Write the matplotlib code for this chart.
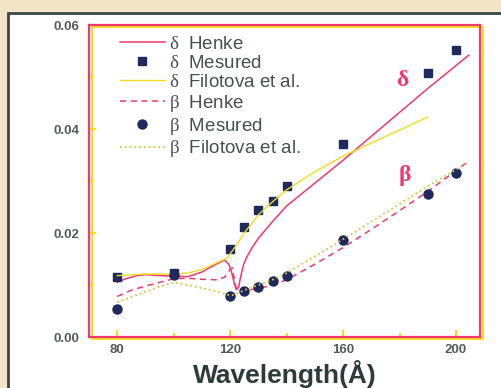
import matplotlib
matplotlib.use('Agg')
import matplotlib.pyplot as plt
from matplotlib.patches import Rectangle
from matplotlib.transforms import ScaledTranslation
from matplotlib.ticker import MultipleLocator

plt.rcParams['font.family'] = ['Liberation Sans', 'DejaVu Sans']
plt.rcParams['mathtext.fontset'] = 'custom'
plt.rcParams['mathtext.rm'] = 'Liberation Serif'
plt.rcParams['mathtext.it'] = 'Liberation Serif'
plt.rcParams['mathtext.bf'] = 'Liberation Serif:bold'

# measured points
x_meas = [80, 100, 120, 125, 130, 135, 140, 160, 190, 200]
delta_meas = [0.0115, 0.0124, 0.0170, 0.0211, 0.0244, 0.0262, 0.0291, 0.0371, 0.0508, 0.0551]
beta_meas = [0.0054, 0.0119, 0.0078, 0.0089, 0.0097, 0.0107, 0.0118, 0.0187, 0.0275, 0.0315]

# Henke delta
x_dh = [80, 83, 87, 90, 95, 100, 105, 110, 115, 118, 119.5, 120.5, 121.5, 122.3, 123, 123.8, 124.8,
        126, 128, 130, 135, 140, 150, 160, 170, 180, 190, 200, 204.5]
y_dh = [0.0105, 0.0112, 0.0118, 0.0120, 0.0118, 0.0117, 0.0116, 0.0125, 0.0140, 0.0148, 0.0140, 0.0125, 0.0102,
        0.0091, 0.0096, 0.0118, 0.0140, 0.0155, 0.0174, 0.0190, 0.0222, 0.0252, 0.0296, 0.0340, 0.0386,
        0.0432, 0.0478, 0.0522, 0.0542]

# Filotova delta
x_df = [80, 90, 100, 105, 110, 115, 119, 120, 122, 125, 130, 135, 140, 150, 160, 170, 180, 190]
y_df = [0.0118, 0.0121, 0.0121, 0.0123, 0.0130, 0.0142, 0.0152, 0.0160, 0.0175, 0.0200, 0.0235, 0.0260,
        0.0283, 0.0318, 0.0348, 0.0373, 0.0398, 0.0423]

# Henke beta
x_bh = [80, 85, 90, 95, 100, 105, 110, 115, 118, 120, 120.8, 121.5, 122.3, 123.5, 125, 130, 135, 140,
        150, 160, 170, 180, 190, 200, 205]
y_bh = [0.0078, 0.0090, 0.0098, 0.0105, 0.0112, 0.0113, 0.0111, 0.0110, 0.0115, 0.0130, 0.0133, 0.0110,
        0.0089, 0.0087, 0.0089, 0.0093, 0.0100, 0.0110, 0.0140, 0.0172, 0.0207, 0.0243, 0.0280, 0.0320, 0.0340]

# Filotova beta
x_bf = [80, 85, 90, 95, 100, 105, 110, 115, 118, 120, 122, 125, 130, 135, 140, 150, 160, 170, 180, 190, 200, 204]
y_bf = [0.0067, 0.0077, 0.0087, 0.0097, 0.0105, 0.0100, 0.0094, 0.0088, 0.0083, 0.0080, 0.0082, 0.0090,
        0.0100, 0.0110, 0.0123, 0.0155, 0.0188, 0.0222, 0.0256, 0.0290, 0.0322, 0.0335]

pink = '#ee3a6e'
yellow = '#f2dc1e'
navy = '#1e2a5c'
gray = '#4a4f52'

fig = plt.figure(figsize=(5.02, 3.88), dpi=100)
fig.patch.set_facecolor('#f4e4c8')
fig.patches.append(Rectangle((8 / 502, -0.05), 1.1, 1.05 - 13 / 388, transform=fig.transFigure,
                             facecolor='white', edgecolor='#3b4646', linewidth=2, zorder=-10))

ax = fig.add_axes([89 / 502, 1 - 337 / 388, 391 / 502, 312 / 388])
ax.set_facecolor('white')

ax.plot(x_dh, y_dh, '-', color=pink, lw=1.1, label=r'$\delta$  Henke')
ax.plot(x_meas, delta_meas, 's', color=navy, ms=5.5, ls='none', label=r'$\delta$  Mesured')
ax.plot(x_df, y_df, '-', color=yellow, lw=1.0, label=r'$\delta$  Filotova et al.')
ax.plot(x_bh, y_bh, '--', color=pink, lw=1.1, dashes=(4, 3), label=r'$\beta$  Henke')
ax.plot(x_meas, beta_meas, 'o', color=navy, ms=6.5, ls='none', label=r'$\beta$  Mesured')
ax.plot(x_bf, y_bf, ':', color='#d6c63a', lw=1.3, label=r'$\beta$  Filotova et al.')

ax.text(181, 0.0495, r'$\mathbf{\delta}$', color=pink, fontsize=17, ha='center', va='center')
ax.text(182, 0.031, r'$\mathbf{\beta}$', color=pink, fontsize=17, ha='center', va='center')

ax.set_xlim(70, 208.5)
ax.set_ylim(0, 0.06)
ax.set_xticks([80, 120, 160, 200])
ax.set_yticks([0.0, 0.02, 0.04, 0.06])
ax.set_yticklabels(['0.00', '0.02', '0.04', '0.06'])
ax.xaxis.set_minor_locator(MultipleLocator(20))
ax.yaxis.set_minor_locator(MultipleLocator(0.01))
ax.tick_params(which='both', direction='in', color=yellow, width=1.5, top=False, right=False)
ax.tick_params(which='major', length=5)
ax.tick_params(which='minor', length=3)
ax.tick_params(axis='y', pad=7)
ax.tick_params(axis='x', pad=5)
for lab in ax.get_xticklabels() + ax.get_yticklabels():
    lab.set_fontsize(9.5)
    lab.set_fontweight('bold')
    lab.set_color('#55595c')

for s in ax.spines.values():
    s.set_color(pink)
    s.set_linewidth(1.6)
shift = ax.transAxes + ScaledTranslation(3 / 100, -2 / 100, fig.dpi_scale_trans)
ax.add_patch(Rectangle((0, 0), 1, 1, transform=shift, fill=False, edgecolor=yellow, lw=1.4,
                       clip_on=False, zorder=0.5))

ax.set_xlabel('Wavelength(Å)', fontsize=19, fontweight='bold', color='#2f3b3b', labelpad=3)

ax.legend(loc='upper left', bbox_to_anchor=(0.035, 1.02), frameon=False, fontsize=13.5,
          handlelength=2.4, handletextpad=0.25, labelspacing=0.1, labelcolor=gray)

fig.savefig('out.png', dpi=100, facecolor=fig.get_facecolor())
